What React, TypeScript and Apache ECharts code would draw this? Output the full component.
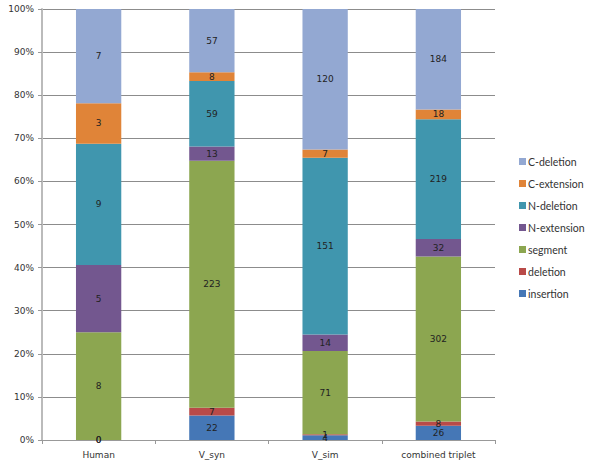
import React, { useEffect, useRef } from "react";
import * as echarts from "echarts";

const categories = ["Human", "V_syn", "V_sim", "combined triplet"];
const seriesNames = ["insertion", "deletion", "segment", "N-extension", "N-deletion", "C-extension", "C-deletion"];
const insertion = [0, 22, 4, 26];
const deletion = [0, 7, 1, 8];
const segment = [8, 223, 71, 302];
const nExtension = [5, 13, 14, 32];
const nDeletion = [9, 59, 151, 219];
const cExtension = [3, 8, 7, 18];
const cDeletion = [7, 57, 120, 184];
const yTicks = [0, 10, 20, 30, 40, 50, 60, 70, 80, 90, 100];
const colors = ["#4577B6", "#B94A48", "#8CA650", "#73578F", "#4096AE", "#E08438", "#93A8D2"];

export default function App() {
  const ref = useRef<HTMLDivElement>(null);
  useEffect(() => {
    if (!ref.current) return;
    const chart = echarts.init(ref.current, undefined, { renderer: "svg" });
    const all = [insertion, deletion, segment, nExtension, nDeletion, cExtension, cDeletion];
    const totals = categories.map((_, i) => all.reduce((s, arr) => s + arr[i], 0));
    const series = all.map((arr, k) => ({
      name: seriesNames[k],
      type: "bar",
      stack: "total",
      barWidth: "40%",
      itemStyle: { color: colors[k] },
      label: {
        show: true,
        position: "inside",
        fontSize: 9,
        fontFamily: "DejaVu Sans",
        color: "#222",
        formatter: (p: any) => String(p.data.raw),
      },
      data: arr.map((v, i) => ({ value: (v / totals[i]) * 100, raw: v })),
    }));
    chart.setOption({
      animation: false,
      backgroundColor: "#fff",
      grid: { left: 42, right: 105, top: 9, bottom: 27, containLabel: false },
      legend: {
        orient: "vertical",
        left: 514,
        top: 151,
        itemWidth: 7,
        itemHeight: 7,
        itemGap: 11,
        icon: "rect",
        data: seriesNames.slice().reverse(),
        textStyle: { fontSize: 10.5, fontFamily: "Lato", color: "#333", padding: [0, 0, 0, -3] },
      },
      xAxis: {
        type: "category",
        data: categories,
        axisLine: { lineStyle: { color: "#999" } },
        axisTick: { show: true, alignWithLabel: false, length: 4, lineStyle: { color: "#999" } },
        axisLabel: { fontSize: 9, fontFamily: "DejaVu Sans", color: "#333", margin: 10 },
      },
      yAxis: {
        type: "value",
        min: yTicks[0],
        max: yTicks[yTicks.length - 1],
        interval: 10,
        axisLine: { show: true, lineStyle: { color: "#bbb", width: 2 } },
        axisTick: { show: true, length: 4, lineStyle: { color: "#999" } },
        axisLabel: { fontSize: 9, fontFamily: "DejaVu Sans", color: "#333", formatter: "{value}%", margin: 8 },
        splitLine: { lineStyle: { color: "#8c8c8c" } },
      },
      series,
    });
    return () => chart.dispose();
  }, []);
  return <div ref={ref} style={{ width: 600, height: 467, position: "absolute", left: 0, top: 0 }} />;
}
